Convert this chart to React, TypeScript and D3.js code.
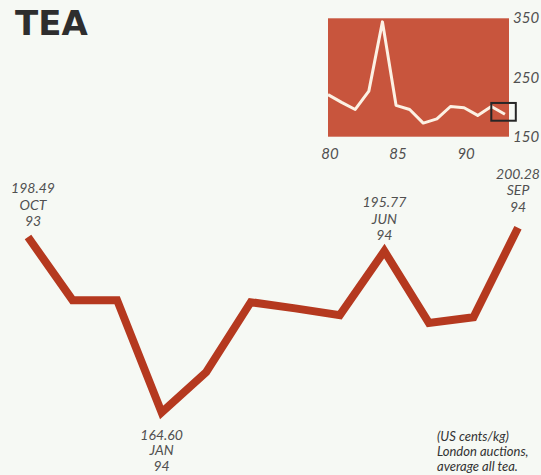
import React from "react";
import * as d3 from "d3";

// Monthly London auction averages, Oct 1993 – Sep 1994 (US cents/kg)
const months = ["OCT", "NOV", "DEC", "JAN", "FEB", "MAR", "APR", "MAY", "JUN", "JUL", "AUG", "SEP"];
const monthYears = ["93", "93", "93", "94", "94", "94", "94", "94", "94", "94", "94", "94"];
const prices = [198.49, 186.3, 186.3, 164.6, 172.4, 185.9, 184.7, 183.4, 195.77, 181.9, 183.0, 200.28];
// Months whose value is printed
const labelledMonths = [0, 3, 8, 11];

// Annual averages for the long-run inset
const insetYears = [1980, 1981, 1982, 1983, 1984, 1985, 1986, 1987, 1988, 1989, 1990, 1991, 1992, 1993];
const insetPrices = [221, 208, 196, 227, 344, 203, 196, 173, 180, 201, 199, 186, 201, 188];
const insetXTicks = [1980, 1985, 1990];
const insetYTicks = [150, 250, 350];
// Window on the inset highlighting the period of the main chart
const highlightYears = [1992, 1993.8];
const highlightPrices = [177, 207];

const W = 541;
const H = 475;
const LINE_RED = "#b5391f";
const PANEL_RED = "#c8553d";
const TEXT_GREY = "#505050";
const FONT = "Lato, 'Open Sans', sans-serif";

export default function App() {
  const x = d3.scaleLinear().domain([0, months.length - 1]).range([28, 518]);
  const y = d3.scaleLinear().domain([164.6, 198.49]).range([412.5, 237]);
  const line = d3
    .line<number>()
    .x((_, i) => x(i))
    .y((d) => y(d));

  const ix = d3.scaleLinear().domain([1980, 1993.3]).range([328, 509]);
  const iy = d3.scaleLinear().domain([150, 350]).range([136.7, 18.3]);
  const insetLine = d3
    .line<number>()
    .x((_, i) => ix(insetYears[i]))
    .y((d) => iy(d));

  return (
    <svg
      width={W}
      height={H}
      style={{ position: "absolute", left: 0, top: 0, background: "#f6f9f4" }}
    >
      <rect x={0} y={0} width={W} height={H} fill="#f6f9f4" />

      <text x={15} y={35} fontFamily="'DejaVu Sans', sans-serif" fontWeight="bold" fontSize={34} fill="#2e2e2e">
        TEA
      </text>

      {/* inset: long-run prices */}
      <rect
        x={ix(1980)}
        y={iy(350)}
        width={ix(1993.3) - ix(1980)}
        height={iy(150) - iy(350)}
        fill={PANEL_RED}
      />
      <path
        d={insetLine(insetPrices) || ""}
        fill="none"
        stroke="#fcf1e4"
        strokeWidth={3}
        strokeLinejoin="round"
      />
      <rect
        x={ix(highlightYears[0])}
        y={iy(highlightPrices[1])}
        width={ix(highlightYears[1]) - ix(highlightYears[0])}
        height={iy(highlightPrices[0]) - iy(highlightPrices[1])}
        fill="none"
        stroke="#262626"
        strokeWidth={2}
      />
      {insetYTicks.map((t) => (
        <text
          key={t}
          x={513}
          y={iy(t) + 5}
          fontFamily={FONT}
          fontStyle="italic"
          fontSize={15}
          fill={TEXT_GREY}
        >
          {t}
        </text>
      ))}
      {insetXTicks.map((t) => (
        <text
          key={t}
          x={ix(t) + 2}
          y={159}
          textAnchor="middle"
          fontFamily={FONT}
          fontStyle="italic"
          fontSize={15}
          fill={TEXT_GREY}
        >
          {String(t).slice(2)}
        </text>
      ))}

      {/* main monthly line */}
      <path
        d={line(prices) || ""}
        fill="none"
        stroke={LINE_RED}
        strokeWidth={8}
        strokeLinejoin="miter"
        strokeLinecap="butt"
      />

      {labelledMonths.map((i) => {
        const below = i === 3;
        const lh = below ? 15.5 : 16.3;
        const lines = [prices[i].toFixed(2), months[i], monthYears[i]];
        const px = x(i) + (i === 0 ? 5 : 0);
        const gap = i === 11 ? 16 : 11;
        const first = below ? y(prices[i]) + 27 : y(prices[i]) - gap - lh * 2;
        return (
          <text
            key={i}
            textAnchor="middle"
            fontFamily={FONT}
            fontStyle="italic"
            fontSize={14}
            fill={TEXT_GREY}
          >
            {lines.map((s, k) => (
              <tspan key={k} x={px} y={first + k * lh}>
                {s}
              </tspan>
            ))}
          </text>
        );
      })}

      <text fontFamily={FONT} fontStyle="italic" fontSize={13} fill="#333">
        <tspan x={437} y={441}>(US cents/kg)</tspan>
        <tspan x={437} y={456}>London auctions,</tspan>
        <tspan x={437} y={471}>average all tea.</tspan>
      </text>
    </svg>
  );
}
